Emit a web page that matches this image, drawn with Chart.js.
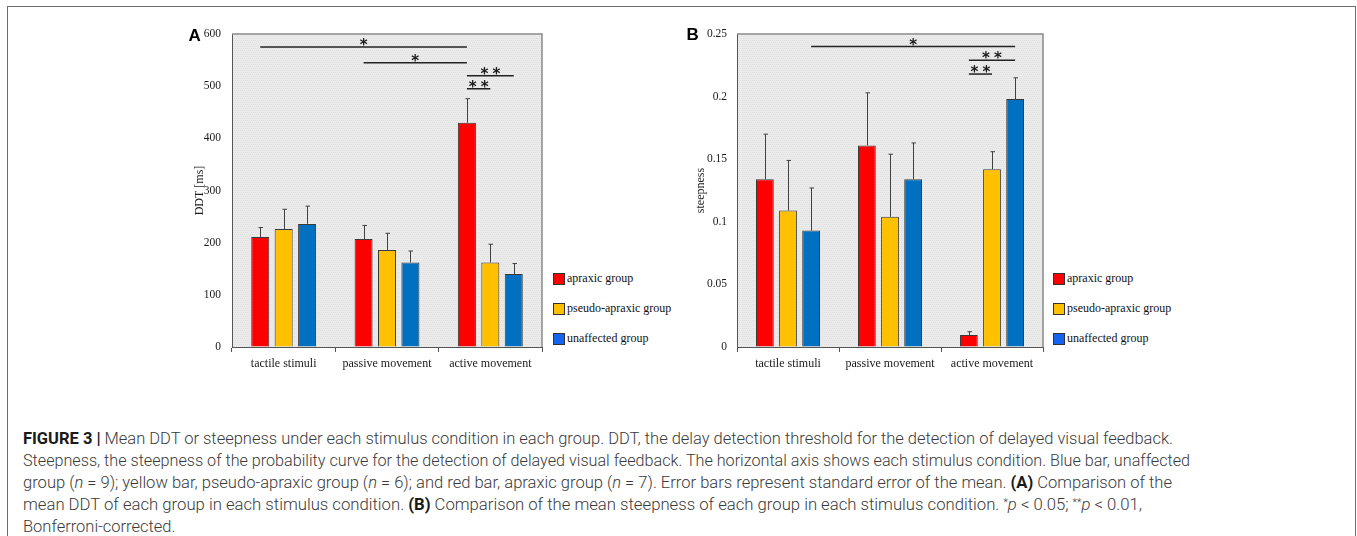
<!DOCTYPE html>
<html>
<head>
<meta charset="utf-8">
<script src="https://cdn.jsdelivr.net/npm/chart.js@4.4.1/dist/chart.umd.min.js"></script>
<style>
  html, body { margin: 0; padding: 0; background: #fff; }
  body { width: 1357px; height: 536px; overflow: hidden; position: relative; }
  #frame { position: absolute; left: 7px; top: 6px; width: 1349px; height: 600px; box-sizing: border-box;
           border: 1px solid #6b6b6b; border-bottom: none; }
  .panel { position: absolute; top: 0; }
  .legend { position: absolute; font: 12px "Liberation Serif", "Times New Roman", serif; color: #111; }
  .legend .item { position: absolute; left: 0; white-space: nowrap; height: 12px; }
  .legend .sw { position: absolute; left: 0; top: 0; width: 10px; height: 10px; border: 1px solid #333; }
  .legend .tx { position: absolute; left: 14px; top: -3px; line-height: 16px; }
  #caption { position: absolute; left: 23px; top: 428px; font: 16px Roboto, "Liberation Sans", sans-serif;
             font-weight: 300; color: #3a3a3a; line-height: 22px; }
  #caption .ln { white-space: nowrap; height: 22px; overflow: visible; }
  #caption .fit { display: inline-block; transform-origin: 0 0; line-height: 22px; }
  #caption b { font-weight: 700; color: #1a1a1a; }
  #caption sup { font-size: 10px; line-height: 0; vertical-align: 0.45em; }
</style>
</head>
<body>
<div id="frame"></div>
<div class="panel" style="left:185px"><canvas id="chartA" width="365" height="380"></canvas></div>
<div class="panel" style="left:680px"><canvas id="chartB" width="370" height="380"></canvas></div>
<div class="legend" id="legendA" style="left:553px; top:273px"></div>
<div class="legend" id="legendB" style="left:1053px; top:273px"></div>
<div id="caption">
  <div class="ln"><span class="fit" data-w="1150"><b>FIGURE 3 |</b> Mean DDT or steepness under each stimulus condition in each group. DDT, the delay detection threshold for the detection of delayed visual feedback.</span></div>
  <div class="ln"><span class="fit" data-w="1167">Steepness, the steepness of the probability curve for the detection of delayed visual feedback. The horizontal axis shows each stimulus condition. Blue bar, unaffected</span></div>
  <div class="ln"><span class="fit" data-w="1149">group (<i>n</i> = 9); yellow bar, pseudo-apraxic group (<i>n</i> = 6); and red bar, apraxic group (<i>n</i> = 7). Error bars represent standard error of the mean. <b>(A)</b> Comparison of the</span></div>
  <div class="ln"><span class="fit" data-w="1119">mean DDT of each group in each stimulus condition. <b>(B)</b> Comparison of the mean steepness of each group in each stimulus condition. <sup>*</sup><i>p</i> &lt; 0.05; <sup>**</sup><i>p</i> &lt; 0.01,</span></div>
  <div class="ln"><span class="fit">Bonferroni-corrected.</span></div>
</div>
<script>
// categories and groups
const categories = ["tactile stimuli", "passive movement", "active movement"];
const groups = ["apraxic group", "pseudo-apraxic group", "unaffected group"];
const barColors = ["#ff0000", "#ffc000", "#0070c0"];
const legendColors = ["#ff0000", "#ffc000", "#1464f0"];

// panel A: DDT [ms]
const ddtApraxic = [211, 207, 430];
const ddtPseudo = [226, 186, 162];
const ddtUnaffected = [236, 162, 140];
const ddtSemApraxic = [18, 26, 46];
const ddtSemPseudo = [38, 32, 35];
const ddtSemUnaffected = [34, 22, 20];
const ddtTicks = [0, 100, 200, 300, 400, 500, 600];
// [category, group] -> [category, group], height, stars
const ddtSig = [
  { from: [0, 0], to: [2, 0], y: 575, label: "*" },
  { from: [1, 0], to: [2, 0], y: 545, label: "*" },
  { from: [2, 0], to: [2, 2], y: 520, label: "**" },
  { from: [2, 0], to: [2, 1], y: 495, label: "**" }
];

// panel B: steepness
const steepApraxic = [0.134, 0.161, 0.0095];
const steepPseudo = [0.109, 0.104, 0.142];
const steepUnaffected = [0.093, 0.134, 0.198];
const steepSemApraxic = [0.036, 0.042, 0.0027];
const steepSemPseudo = [0.040, 0.050, 0.014];
const steepSemUnaffected = [0.034, 0.029, 0.017];
const steepTicks = [0, 0.05, 0.1, 0.15, 0.2, 0.25];
const steepSig = [
  { from: [0, 2], to: [2, 2], y: 0.240, label: "*" },
  { from: [2, 0], to: [2, 2], y: 0.229, label: "**" },
  { from: [2, 0], to: [2, 1], y: 0.218, label: "**" }
];

const SERIF = "'Liberation Serif', 'Times New Roman', serif";
Chart.defaults.font.family = SERIF;
Chart.defaults.color = "#1a1a1a";

let bgPattern = null;
function getPattern(ctx) {
  if (bgPattern) return bgPattern;
  const c = document.createElement("canvas");
  c.width = 4; c.height = 4;
  const p = c.getContext("2d");
  p.fillStyle = "#ebebeb";
  p.fillRect(0, 0, 4, 4);
  p.fillStyle = "#e0e0e0";
  [[0, 0], [2, 0], [1, 2], [3, 2]].forEach(([x, y]) => p.fillRect(x, y, 1, 1));
  bgPattern = ctx.createPattern(c, "repeat");
  return bgPattern;
}

const extras = {
  id: "extras",
  beforeDraw(chart) {
    const { ctx, chartArea: a } = chart;
    ctx.save();
    ctx.fillStyle = getPattern(ctx);
    ctx.fillRect(a.left, a.top, a.right - a.left, a.bottom - a.top);
    ctx.restore();
  },
  afterDatasetsDraw(chart, args, opts) {
    const { ctx, chartArea: a } = chart;
    const y = chart.scales.y;
    ctx.save();

    // error bars (upper half only)
    ctx.strokeStyle = "#404040";
    ctx.lineWidth = 1;
    chart.data.datasets.forEach((ds, i) => {
      const meta = chart.getDatasetMeta(i);
      meta.data.forEach((bar, j) => {
        const x = Math.round(bar.x) + 0.5;
        const top = y.getPixelForValue(ds.data[j] + opts.sems[i][j]);
        ctx.beginPath();
        ctx.moveTo(x, bar.y);
        ctx.lineTo(x, top);
        ctx.moveTo(x - 2, top);
        ctx.lineTo(x + 2.5, top);
        ctx.stroke();
      });
    });

    // plot frame top/right
    ctx.strokeStyle = "#8a8a8a";
    ctx.lineWidth = 1.5;
    ctx.beginPath();
    ctx.moveTo(a.left, a.top);
    ctx.lineTo(a.right, a.top);
    ctx.lineTo(a.right, a.bottom);
    ctx.stroke();

    // significance brackets
    ctx.strokeStyle = "#222";
    ctx.fillStyle = "#1a1a1a";
    ctx.lineWidth = 1.5;
    ctx.font = "bold 15px 'DejaVu Sans'";
    ctx.textAlign = "center";
    ctx.textBaseline = "alphabetic";
    opts.sig.forEach(s => {
      const x1 = chart.getDatasetMeta(s.from[1]).data[s.from[0]].x;
      const x2 = chart.getDatasetMeta(s.to[1]).data[s.to[0]].x;
      const ly = y.getPixelForValue(s.y);
      ctx.beginPath();
      ctx.moveTo(x1, ly);
      ctx.lineTo(x2, ly);
      ctx.stroke();
      const n = s.label.length;
      const cx = (x1 + x2) / 2;
      for (let k = 0; k < n; k++) {
        ctx.fillText("*", cx + (k - (n - 1) / 2) * 12, ly + 3);
      }
    });

    // panel letter
    ctx.font = "bold 17px 'Liberation Sans', Arial, sans-serif";
    ctx.textAlign = "left";
    ctx.fillStyle = "#000";
    ctx.fillText(opts.letter, opts.letterX, opts.letterY);
    ctx.restore();
  }
};

function makeChart(id, series, sems, ticks, sig, opt) {
  return new Chart(document.getElementById(id), {
    type: "bar",
    data: {
      labels: categories,
      datasets: groups.map((g, i) => ({
        label: g,
        data: series[i],
        backgroundColor: barColors[i],
        borderColor: "#3a3a3a",
        borderWidth: 1,
        categoryPercentage: 0.68,
        barPercentage: 0.77
      }))
    },
    options: {
      responsive: false,
      animation: false,
      layout: { padding: { top: 34, right: opt.right, left: 0, bottom: 0 } },
      plugins: {
        legend: { display: false },
        tooltip: { enabled: false },
        extras: { sems: sems, sig: sig, letter: opt.letter, letterX: opt.letterX, letterY: opt.letterY }
      },
      scales: {
        x: {
          grid: { display: true, drawOnChartArea: false, drawTicks: true, tickLength: 5, color: "#555", offset: true },
          border: { color: "#555" },
          ticks: { font: { size: 12 }, padding: 5, maxRotation: 0, color: "#1a1a1a" },
          afterFit: s => { s.height = 33; }
        },
        y: {
          min: ticks[0],
          max: ticks[ticks.length - 1],
          afterBuildTicks: s => { s.ticks = ticks.map(v => ({ value: v })); },
          grid: { drawOnChartArea: false, drawTicks: false },
          border: { color: "#555" },
          ticks: { font: { size: 11.5 }, padding: opt.tickPad, color: "#1a1a1a", callback: v => String(v) },
          title: { display: true, text: opt.title, font: { size: 12 }, color: "#1a1a1a", padding: { top: opt.titlePad, bottom: 0 } },
          afterFit: s => { s.width = opt.yWidth; }
        }
      }
    },
    plugins: [extras]
  });
}

makeChart("chartA",
  [ddtApraxic, ddtPseudo, ddtUnaffected],
  [ddtSemApraxic, ddtSemPseudo, ddtSemUnaffected],
  ddtTicks, ddtSig,
  { right: 8, yWidth: 47, tickPad: 11, title: "DDT [ms]", titlePad: 7.5, letter: "A", letterX: 3.5, letterY: 40.5 });

makeChart("chartB",
  [steepApraxic, steepPseudo, steepUnaffected],
  [steepSemApraxic, steepSemPseudo, steepSemUnaffected],
  steepTicks, steepSig,
  { right: 7, yWidth: 57, tickPad: 10, title: "steepness", titlePad: 13.5, letter: "B", letterX: 6.5, letterY: 40 });

// HTML legends
function buildLegend(id) {
  const el = document.getElementById(id);
  groups.forEach((g, i) => {
    const item = document.createElement("div");
    item.className = "item";
    item.style.top = (i * 30) + "px";
    item.innerHTML = `<span class="sw" style="background:${legendColors[i]}"></span><span class="tx">${g}</span>`;
    el.appendChild(item);
  });
}
buildLegend("legendA");
buildLegend("legendB");

// fit caption lines to the measured widths of the reference
const scales = [];
document.querySelectorAll("#caption .fit").forEach(s => {
  const w = s.getBoundingClientRect().width;
  const k = s.dataset.w ? +s.dataset.w / w : scales.reduce((a, b) => a + b, 0) / scales.length;
  if (s.dataset.w) scales.push(k);
  s.style.transform = `scaleX(${k.toFixed(4)})`;
});
</script>
</body>
</html>
